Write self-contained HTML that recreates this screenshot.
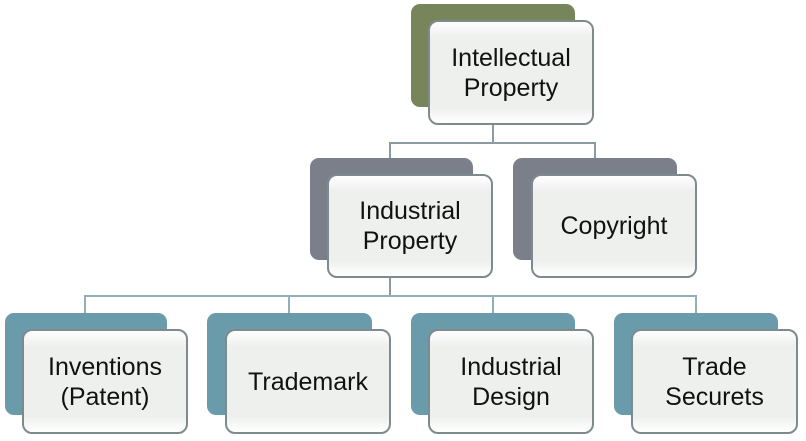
<!DOCTYPE html>
<html><head><meta charset="utf-8"><style>
body{margin:0;width:806px;height:441px;background:#fff;position:relative;overflow:hidden;font-family:"Liberation Sans",sans-serif;}
.b{position:absolute;border-radius:9px;}
.f{position:absolute;border-radius:10px;border:2px solid #7d8b8f;box-sizing:border-box;background:linear-gradient(#fff 0%,#eef0ee 15%,#eef0ee 85%,#fff 100%);display:flex;align-items:center;justify-content:center;text-align:center;font-size:25px;line-height:30px;color:#111;}
.l{position:absolute;background:#8a9ca2;}
</style></head><body>
<div class="l" style="left:492px;top:124px;width:2px;height:20px"></div>
<div class="l" style="left:389px;top:142px;width:207px;height:2px"></div>
<div class="l" style="left:389px;top:142px;width:2px;height:18px"></div>
<div class="l" style="left:594px;top:142px;width:2px;height:18px"></div>
<div class="l" style="left:389px;top:277px;width:2px;height:20px"></div>
<div class="l" style="left:84px;top:295px;width:613px;height:2px;background:#8fb0ba"></div>
<div class="l" style="left:84px;top:295px;width:2px;height:19px;background:#8fb0ba"></div>
<div class="l" style="left:288px;top:295px;width:2px;height:19px;background:#8fb0ba"></div>
<div class="l" style="left:492px;top:295px;width:2px;height:19px;background:#8fb0ba"></div>
<div class="l" style="left:695px;top:295px;width:2px;height:19px;background:#8fb0ba"></div>

<div class="b" style="left:411px;top:4px;width:164px;height:103px;background:#76865a"></div>
<div class="f" style="left:428px;top:20px;width:166px;height:105px">Intellectual<br>Property</div>

<div class="b" style="left:310px;top:158px;width:163px;height:102px;background:#7b7f8a"></div>
<div class="f" style="left:327px;top:174px;width:166px;height:104px">Industrial<br>Property</div>
<div class="b" style="left:513px;top:158px;width:164px;height:102px;background:#7b7f8a"></div>
<div class="f" style="left:531px;top:174px;width:166px;height:104px">Copyright</div>

<div class="b" style="left:5px;top:313px;width:162px;height:102px;background:#6a9bab"></div>
<div class="f" style="left:22px;top:329px;width:166px;height:105px">Inventions<br>(Patent)</div>
<div class="b" style="left:207px;top:313px;width:165px;height:102px;background:#6a9bab"></div>
<div class="f" style="left:225px;top:329px;width:166px;height:105px">Trademark</div>
<div class="b" style="left:411px;top:313px;width:164px;height:102px;background:#6a9bab"></div>
<div class="f" style="left:428px;top:329px;width:166px;height:105px">Industrial<br>Design</div>
<div class="b" style="left:614px;top:313px;width:164px;height:102px;background:#6a9bab"></div>
<div class="f" style="left:631px;top:329px;width:167px;height:105px">Trade<br>Securets</div>
</body></html>
